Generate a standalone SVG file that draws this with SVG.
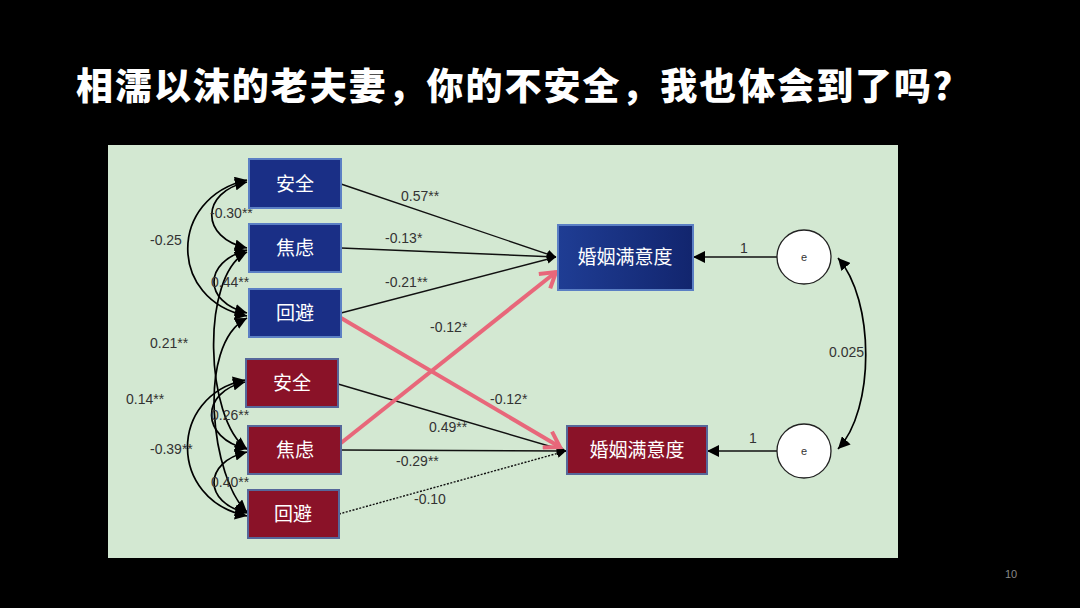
<svg xmlns="http://www.w3.org/2000/svg" width="1080" height="608" viewBox="0 0 1080 608">
<defs>
<marker id="ah" viewBox="0 0 10 10" refX="10" refY="5" markerWidth="12" markerHeight="12" markerUnits="userSpaceOnUse" orient="auto-start-reverse"><path d="M0,0 L10,5 L0,10 Z" fill="#000"/></marker>
<marker id="ahs" viewBox="0 0 10 10" refX="10" refY="5" markerWidth="9" markerHeight="9" markerUnits="userSpaceOnUse" orient="auto-start-reverse"><path d="M0,0 L10,5 L0,10 Z" fill="#000"/></marker>
<marker id="pk" viewBox="0 0 12 12" refX="10" refY="6" markerWidth="22" markerHeight="22" markerUnits="userSpaceOnUse" orient="auto"><path d="M2,1 L10,6 L2,11" fill="none" stroke="#e8677a" stroke-width="2.2" stroke-linejoin="miter"/></marker>
<linearGradient id="bg1" x1="0" y1="0" x2="1" y2="0"><stop offset="0" stop-color="#1f3d94"/><stop offset="1" stop-color="#12256e"/></linearGradient>
</defs>
<style>
.t{font-family:"Noto Sans CJK SC","Noto Sans",sans-serif;}
.lbl{font-family:"Liberation Sans","DejaVu Sans",sans-serif;font-size:14px;fill:#333;}
.bx{font-family:"Noto Sans CJK SC",sans-serif;font-size:19px;fill:#fff;text-anchor:middle;}
.blue{fill:#1a2f86;stroke:#5b7fc4;stroke-width:2;}
.red{fill:#8a1228;stroke:#56679a;stroke-width:2;}
.ln{fill:none;stroke:#111;stroke-width:1.4;}
.cv{fill:none;stroke:#000;stroke-width:1.7;}
.pink{fill:none;stroke:#e8677a;stroke-width:4;}
</style>
<rect x="0" y="0" width="1080" height="608" fill="#000"/>
<text class="t" x="76" y="100" font-size="37" font-weight="900" fill="#fff" textLength="894" lengthAdjust="spacing">相濡以沫的老夫妻，你的不安全，我也体会到了吗？</text>
<rect x="108" y="145" width="790" height="413" fill="#d3e8d2"/>
<text x="1011" y="578" font-family="Liberation Sans,sans-serif" font-size="11" fill="#888" text-anchor="middle">10</text>

<g id="connectors">
<path class="ln" d="M341,184 L556,257" marker-end="url(#ahs)"/>
<path class="ln" d="M341,248 L556,257" marker-end="url(#ahs)"/>
<path class="ln" d="M341,313 L556,257" marker-end="url(#ahs)"/>
<path class="ln" d="M338,384 L566,451" marker-end="url(#ahs)"/>
<path class="ln" d="M341,450 L566,451" marker-end="url(#ahs)"/>
<path class="ln" d="M339,514 L566,451" stroke-dasharray="2,1.5" marker-end="url(#ahs)"/>
<path class="pink" d="M341,318 L560,447" marker-end="url(#pk)"/>
<path class="pink" d="M341,443 L556,272" marker-end="url(#pk)"/>
<path class="ln" d="M777,257 L693,257" marker-end="url(#ah)"/>
<path class="ln" d="M777,451 L707,451" marker-end="url(#ah)"/>
<path class="cv" d="M838,258 C875,300 875,410 838,449" marker-start="url(#ah)" marker-end="url(#ah)"/>
<path class="cv" d="M247,182 C200,192 200,238 247,248" marker-start="url(#ah)" marker-end="url(#ah)"/>
<path class="cv" d="M247,250 C203,262 203,302 247,313" marker-start="url(#ah)" marker-end="url(#ah)"/>
<path class="cv" d="M247,180 C168,198 168,300 247,316" marker-start="url(#ah)" marker-end="url(#ah)"/>
<path class="cv" d="M247,252 C200,275 205,420 247,449" marker-start="url(#ah)" marker-end="url(#ah)"/>
<path class="cv" d="M247,318 C195,345 212,480 247,512" marker-start="url(#ah)" marker-end="url(#ah)"/>
<path class="cv" d="M245,382 C200,392 200,438 247,449" marker-start="url(#ah)" marker-end="url(#ah)"/>
<path class="cv" d="M247,452 C203,462 203,503 247,513" marker-start="url(#ah)" marker-end="url(#ah)"/>
<path class="cv" d="M245,380 C168,396 168,500 247,516" marker-start="url(#ah)" marker-end="url(#ah)"/>
</g>

<g id="labels">
<text class="lbl" x="401" y="201">0.57**</text>
<text class="lbl" x="385" y="243">-0.13*</text>
<text class="lbl" x="385" y="287">-0.21**</text>
<text class="lbl" x="430" y="332">-0.12*</text>
<text class="lbl" x="490" y="404">-0.12*</text>
<text class="lbl" x="429" y="432">0.49**</text>
<text class="lbl" x="396" y="466">-0.29**</text>
<text class="lbl" x="414" y="504">-0.10</text>
<text class="lbl" x="740" y="253">1</text>
<text class="lbl" x="749" y="443">1</text>
<text class="lbl" x="829" y="357">0.025</text>
<text class="lbl" x="210" y="218">-0.30**</text>
<text class="lbl" x="150" y="245">-0.25</text>
<text class="lbl" x="211" y="287">0.44**</text>
<text class="lbl" x="150" y="348">0.21**</text>
<text class="lbl" x="126" y="404">0.14**</text>
<text class="lbl" x="211" y="420">0.26**</text>
<text class="lbl" x="150" y="454">-0.39**</text>
<text class="lbl" x="211" y="487">0.40**</text>
</g>

<g id="n-b-anquan"><rect class="blue" x="249" y="159" width="92" height="49"/><text class="bx" x="295" y="191">安全</text></g>
<g id="n-b-jiaolv"><rect class="blue" x="249" y="224" width="92" height="48"/><text class="bx" x="295" y="255">焦虑</text></g>
<g id="n-b-huibi"><rect class="blue" x="249" y="289" width="92" height="48"/><text class="bx" x="295" y="320">回避</text></g>
<g id="n-r-anquan"><rect class="red" x="246" y="359" width="92" height="48"/><text class="bx" x="292" y="390">安全</text></g>
<g id="n-r-jiaolv"><rect class="red" x="248" y="426" width="93" height="48"/><text class="bx" x="295" y="457">焦虑</text></g>
<g id="n-r-huibi"><rect class="red" x="248" y="490" width="91" height="48"/><text class="bx" x="293" y="521">回避</text></g>
<g id="n-b-manyi"><rect x="558" y="225" width="135" height="65" fill="url(#bg1)" stroke="#5b7fc4" stroke-width="2"/><text class="bx" x="625" y="264">婚姻满意度</text></g>
<g id="n-r-manyi"><rect class="red" x="567" y="426" width="140" height="48"/><text class="bx" x="637" y="457">婚姻满意度</text></g>
<g id="n-e1"><circle cx="804" cy="257" r="27" fill="#fff" stroke="#222" stroke-width="1.3"/><text x="804" y="261" font-family="Liberation Sans,sans-serif" font-size="11" fill="#333" text-anchor="middle">e</text></g>
<g id="n-e2"><circle cx="804" cy="451" r="27" fill="#fff" stroke="#222" stroke-width="1.3"/><text x="804" y="455" font-family="Liberation Sans,sans-serif" font-size="11" fill="#333" text-anchor="middle">e</text></g>
</svg>
